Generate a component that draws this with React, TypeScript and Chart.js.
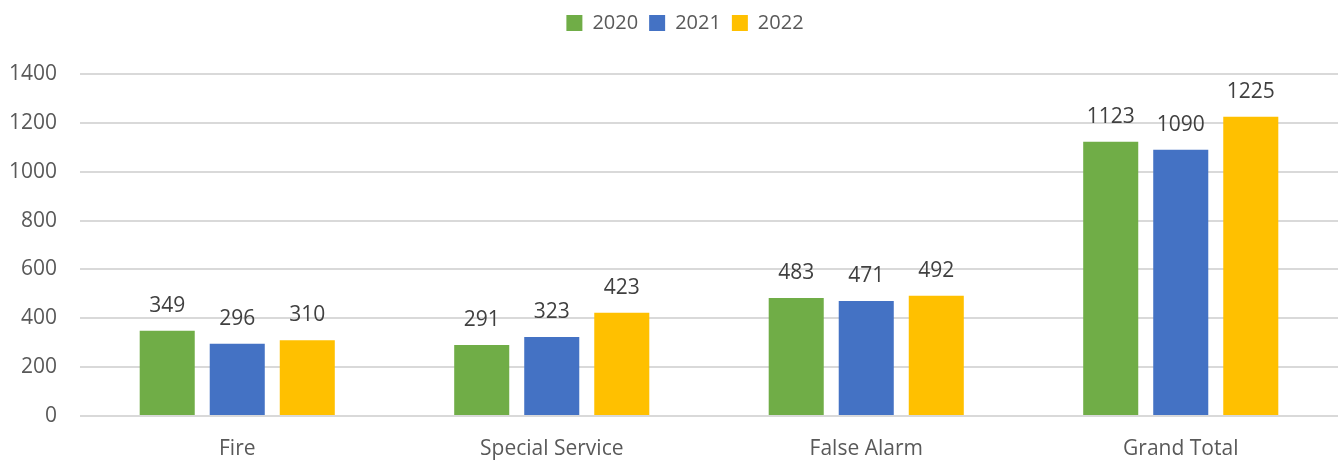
import React, { useEffect, useRef } from "react";
import { Chart, registerables } from "chart.js";

Chart.register(...registerables);

const categories = ["Fire", "Special Service", "False Alarm", "Grand Total"];
const seriesNames = ["2020", "2021", "2022"];
const values2020 = [349, 291, 483, 1123];
const values2021 = [296, 323, 471, 1090];
const values2022 = [310, 423, 492, 1225];
const colors = ["#70AD47", "#4472C4", "#FFC000"];
const yTicks = [0, 200, 400, 600, 800, 1000, 1200, 1400];

const FONT = "'Open Sans', 'Liberation Sans', sans-serif";

const dataLabelPlugin = {
  id: "dataLabels",
  afterDatasetsDraw(chart: any) {
    const ctx = chart.ctx;
    ctx.save();
    ctx.font = `21px ${FONT}`;
    ctx.fillStyle = "#404040";
    ctx.textAlign = "center";
    ctx.textBaseline = "middle";
    chart.data.datasets.forEach((ds: any, i: number) => {
      const meta = chart.getDatasetMeta(i);
      meta.data.forEach((bar: any, j: number) => {
        ctx.fillText(String(ds.data[j]), bar.x, bar.y - 25);
      });
    });
    ctx.restore();
  },
};

const legendHeightPlugin = {
  id: "legendHeight",
  afterInit(chart: any) {
    const leg = chart.legend;
    if (!leg) return;
    const orig = leg.fit.bind(leg);
    leg.fit = function () {
      orig();
      this.height = 74;
    };
  },
  afterLayout(chart: any) {
    const leg = chart.legend;
    if (!leg) return;
    leg.left += 16;
    leg.right += 16;
    leg.top += 2;
  },
};

export default function App() {
  const ref = useRef<HTMLCanvasElement>(null);
  useEffect(() => {
    if (!ref.current) return;
    const allSeries = [values2020, values2021, values2022];
    const chart = new Chart(ref.current, {
      type: "bar",
      data: {
        labels: categories,
        datasets: seriesNames.map((name, i) => ({
          label: name,
          data: allSeries[i],
          backgroundColor: colors[i],
          borderWidth: 0,
          categoryPercentage: 0.668,
          barPercentage: 0.786,
        })),
      },
      options: {
        animation: false,
        responsive: false,
        maintainAspectRatio: false,
        layout: { padding: { left: 0, right: 0, top: 0, bottom: 0 } },
        plugins: {
          legend: {
            position: "top",
            labels: {
              boxWidth: 16,
              boxHeight: 16,
              padding: 11,
              color: "#595959",
              font: { family: FONT, size: 20 },
            },
          },
          tooltip: { enabled: false },
        },
        scales: {
          x: {
            grid: { display: false, drawTicks: false },
            border: { display: false },
            afterFit(scale: any) {
              scale.height = 45;
            },
            ticks: {
              color: "#595959",
              font: { family: FONT, size: 21 },
              padding: 20,
              maxRotation: 0,
            },
          },
          y: {
            min: 0,
            max: 1400,
            afterBuildTicks(scale: any) {
              scale.ticks = yTicks.map((v) => ({ value: v }));
            },
            afterFit(scale: any) {
              scale.width = 80;
            },
            grid: { color: "#D9D9D9", lineWidth: 2, drawTicks: false },
            border: { display: false },
            ticks: {
              color: "#595959",
              font: { family: FONT, size: 21 },
              padding: 23,
              callback: (v: any) => String(v),
            },
          },
        },
      },
      plugins: [dataLabelPlugin, legendHeightPlugin],
    });
    return () => chart.destroy();
  }, []);
  return (
    <div style={{ position: "fixed", left: 0, top: 0, width: 1338, height: 461, background: "#fff" }}>
      <canvas ref={ref} width={1338} height={461} />
    </div>
  );
}
